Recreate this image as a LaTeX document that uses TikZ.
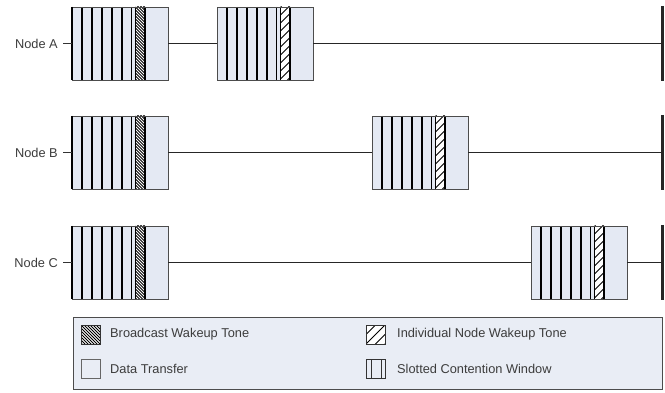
\documentclass[tikz,border=0pt]{standalone}
\usepackage{fontspec}
\setmainfont{Liberation Sans}
\definecolor{blkfill}{RGB}{228,233,243}
\definecolor{legfill}{RGB}{233,237,245}
\definecolor{txtc}{RGB}{60,60,60}
\newcommand\hatchB[4]{% x0 y0 w h : dense \\ hatch
  \begin{scope}
    \clip (#1,#2) rectangle ++(#3,#4);
    \foreach \i in {-24,-21,...,80} \draw[line width=1pt,black] (#1,#2+\i) -- ++(24,24);
  \end{scope}}
\newcommand\hatchI[5]{% x0 y0 w h step : sparse // hatch
  \begin{scope}
    \clip (#1,#2) rectangle ++(#3,#4);
    \foreach \i in {0,#5,...,100} \draw[line width=0.8pt,black] (#1,#2+\i) -- ++(24,-24);
  \end{scope}}
\newcommand\blockinner[2]{%
  \begin{scope}[shift={(#1.north west)}]
    \foreach \s in {10,20,30,40,50,59.5} \draw[slot] (\s,0) -- (\s,73);
    \fill[white] (63.5,0) rectangle (73,73);
    \ifnum#2=1 \hatchB{63.5}{0}{9.5}{73}\else \hatchI{63.5}{0}{9.5}{73}{8}\fi
    \draw[slot] (63.5,0) -- (63.5,73) (73,0) -- (73,73);
  \end{scope}
  \draw[black!70,line width=0.9pt] (#1.north west) rectangle (#1.south east);}
\begin{document}
\begin{tikzpicture}[x=1pt,y=-1pt,
  blk/.style={draw=black!70, fill=blkfill, line width=0.9pt, minimum width=96pt, minimum height=73pt, inner sep=0pt, outer sep=0pt, anchor=north west},
  slot/.style={line width=1.1pt, black},
  tline/.style={line width=1.8pt, black!85},
  endbar/.style={line width=2.2pt, black!85},
  tick/.style={line width=0.9pt, black!80},
  lab/.style={font=\fontsize{12.8}{15}\selectfont, text=txtc, inner sep=0pt},
  icon/.style={draw=black!80, line width=0.9pt, minimum width=19pt, minimum height=19pt, inner sep=0pt, outer sep=0pt, anchor=north west}]
\useasboundingbox (0,0) rectangle (665,393);
% blocks
\node[blk] (a1) at (72,7) {};
\node[blk] (a2) at (217,7) {};
\node[blk] (b1) at (72,116) {};
\node[blk] (b2) at (372,116) {};
\node[blk] (c1) at (72,226) {};
\node[blk] (c2) at (531,226) {};
\blockinner{a1}{1}\blockinner{a2}{2}
\blockinner{b1}{1}\blockinner{b2}{2}
\blockinner{c1}{1}\blockinner{c2}{2}
\foreach \n in {a1,b1,c1} \draw[line width=2.4pt,black] (\n.north west) -- (\n.south west);
% end bars
\coordinate (ae) at (662.5,43.5); \coordinate (aet) at (662.5,6); \coordinate (aeb) at (662.5,81);
\coordinate (be) at (662.5,152.5); \coordinate (bet) at (662.5,115); \coordinate (beb) at (662.5,190);
\coordinate (ce) at (662.5,262.5); \coordinate (cet) at (662.5,225); \coordinate (ceb) at (662.5,300);
\draw[endbar] (aet) -- (aeb);
\draw[endbar] (bet) -- (beb);
\draw[endbar] (cet) -- (ceb);
% timelines
\draw[tline] (a1.east) -- (a2.west);
\draw[tline] (a2.east) -- (ae);
\draw[tline] (b1.east) -- (b2.west);
\draw[tline] (b2.east) -- (be);
\draw[tline] (c1.east) -- (c2.west);
\draw[tline] (c2.east) -- (ce);
% labels
\node[lab, anchor=east] (la) at (58,43.5) {Node A};
\node[lab, anchor=east] (lb) at (58,152.5) {Node B};
\node[lab, anchor=east] (lc) at (58,262.5) {Node C};
\draw[tick] ([xshift=5pt]la.east) -- (a1.west);
\draw[tick] ([xshift=5pt]lb.east) -- (b1.west);
\draw[tick] ([xshift=5pt]lc.east) -- (c1.west);
% legend
\node[draw=black!70, fill=legfill, line width=0.9pt, minimum width=589pt, minimum height=72pt, anchor=north west, inner sep=0pt, outer sep=0pt] (leg) at (73,317) {};
\node[icon, fill=white] (ib) at (81,325) {};
\hatchB{81}{325}{19}{19}
\draw[black!80, line width=0.9pt] (ib.north west) rectangle (ib.south east);
\node[icon, draw=black!60] (id) at (81,359) {};
\node[icon, fill=white] (ii) at (366,325) {};
\hatchI{366}{325}{19}{19}{9.5}
\draw[black!80, line width=0.9pt] (ii.north west) rectangle (ii.south east);
\node[icon] (is) at (366,359) {};
\draw[black!80, line width=0.9pt] ([xshift=5pt]is.north west) -- ([xshift=5pt]is.south west)
  ([xshift=-4pt]is.north east) -- ([xshift=-4pt]is.south east);
\node[lab, anchor=west] (tb) at (110,334.5) {Broadcast Wakeup Tone};
\node[lab, anchor=west] (td) at (110,369) {Data Transfer};
\node[lab, anchor=west] (ti) at (397,334.5) {Individual Node Wakeup Tone};
\node[lab, anchor=west] (ts) at (397,369) {Slotted Contention Window};
\end{tikzpicture}
\end{document}
